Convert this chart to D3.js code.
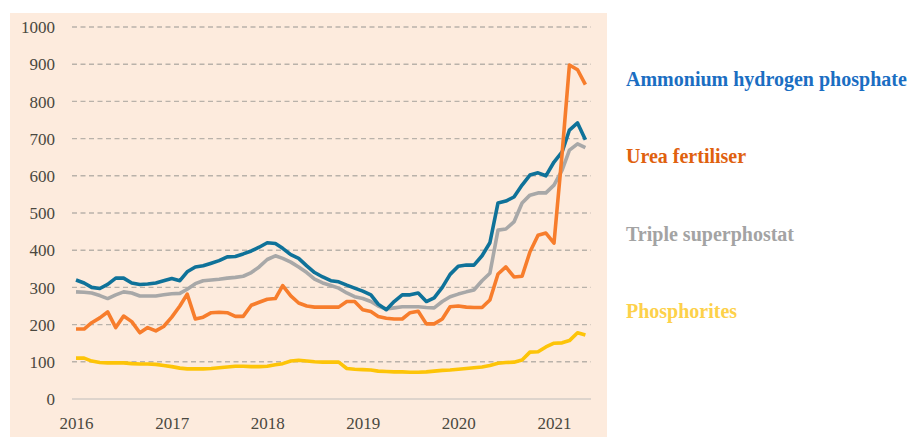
<!DOCTYPE html>
<html>
<head>
<meta charset="utf-8">
<script src="https://cdn.jsdelivr.net/npm/d3@7"></script>
<style>
  html, body { margin: 0; padding: 0; background: #ffffff; }
  svg { display: block; }
</style>
</head>
<body>
<svg id="chart" width="913" height="437"></svg>
<script>
// ---- Data (monthly, Jan 2016 – May 2021) ----
const startMonth = new Date(2016, 0, 1);
const endMonth = new Date(2021, 5, 1);
const months = d3.timeMonth.range(startMonth, endMonth); // 65 months

const ammonium = [320,312,300,297,308,325,325,312,308,309,312,318,
                  324,318,342,355,358,365,372,382,383,390,398,408,
                  420,418,405,388,378,358,340,328,318,315,306,298,
                  290,280,255,240,262,280,280,285,262,272,300,335,
                  357,360,360,385,420,527,532,543,575,602,608,600,
                  637,664,723,742,697];
const urea = [188,188,205,218,234,192,223,208,178,192,183,195,
              220,250,282,215,220,232,233,232,222,222,252,260,
              268,270,305,277,258,250,247,247,247,247,262,262,
              240,235,222,217,215,215,232,236,202,202,215,248,
              250,247,246,246,266,336,355,328,330,395,440,446,
              419,660,898,885,845];
const triple = [288,287,285,278,270,280,288,285,277,277,277,280,
                283,284,295,310,318,320,322,325,327,330,340,355,
                375,385,378,368,355,340,322,312,305,298,285,275,
                270,262,250,242,245,248,248,248,246,245,262,275,
                282,288,293,318,338,454,457,476,527,548,554,554,
                575,615,669,686,676];
const phosphorites = [110,110,102,98,97,97,97,95,94,94,93,90,
                      87,83,81,81,81,82,84,86,88,88,87,87,
                      88,92,95,102,104,102,100,99,99,99,82,80,
                      79,78,75,74,73,73,72,72,73,75,77,78,
                      80,82,84,86,90,96,98,99,105,126,127,140,
                      150,151,157,178,172];

const seriesNames = ["Ammonium hydrogen phosphate", "Urea fertiliser", "Triple superphostat", "Phosphorites"];
const yTicks = [0,100,200,300,400,500,600,700,800,900,1000];
const xTickYears = [2016,2017,2018,2019,2020,2021];

// ---- Layout ----
const svg = d3.select("#chart");
const serif = "'Liberation Serif', 'DejaVu Serif', serif";

svg.append("rect")
  .attr("x", 10).attr("y", 13)
  .attr("width", 597).attr("height", 424)
  .attr("fill", "#fdebdd");

const x = d3.scaleTime()
  .domain([new Date(2016,0,1), new Date(2021,0,1)])
  .range([76, 554]);
const y = d3.scaleLinear().domain([0, 1000]).range([399, 27]);

// gridlines
const grid = svg.append("g");
grid.selectAll("line.grid")
  .data(yTicks.filter(d => d > 0))
  .join("line")
  .attr("class", "grid")
  .attr("x1", 72).attr("x2", 591)
  .attr("y1", d => y(d)).attr("y2", d => y(d))
  .attr("stroke", "#b9b2aa")
  .attr("stroke-width", 1.4)
  .attr("stroke-dasharray", "5,3.5");
grid.append("line")
  .attr("x1", 72).attr("x2", 591)
  .attr("y1", y(0)).attr("y2", y(0))
  .attr("stroke", "#d3cdc6")
  .attr("stroke-width", 1.4);

// Y axis labels
const yAxis = d3.axisLeft(y).tickValues(yTicks).tickSize(0).tickPadding(0).tickFormat(d3.format("d"));
const gy = svg.append("g").attr("transform", "translate(55,0)").call(yAxis);
gy.select(".domain").remove();
gy.selectAll("text")
  .attr("font-family", serif)
  .attr("font-size", 17)
  .attr("fill", "#4a4840")
  .attr("dy", "0.34em");

// X axis labels
const xAxis = d3.axisBottom(x)
  .tickValues(xTickYears.map(yr => new Date(yr, 0, 1)))
  .tickFormat(d3.timeFormat("%Y"))
  .tickSize(0).tickPadding(0);
const gx = svg.append("g").attr("transform", "translate(0,417)").call(xAxis);
gx.select(".domain").remove();
gx.selectAll("text")
  .attr("font-family", serif)
  .attr("font-size", 17)
  .attr("fill", "#4a4840");

// lines
const lineGen = d3.line()
  .x((d, i) => x(months[i]))
  .y(d => y(d));

const drawOrder = [
  {values: phosphorites, color: "#fdc408"},
  {values: triple, color: "#a8a8a8"},
  {values: ammonium, color: "#0f7299"},
  {values: urea, color: "#f77d2c"}
];
svg.append("g").selectAll("path")
  .data(drawOrder)
  .join("path")
  .attr("d", d => lineGen(d.values))
  .attr("fill", "none")
  .attr("stroke", d => d.color)
  .attr("stroke-width", 3.6)
  .attr("stroke-linejoin", "round")
  .attr("stroke-linecap", "butt");

// legend labels
const legendColors = ["#1b6ec2", "#e0610e", "#a3a3a3", "#fdd14a"];
const legendY = [86, 163, 241, 318];
svg.append("g").selectAll("text")
  .data(seriesNames)
  .join("text")
  .attr("x", 626)
  .attr("y", (d, i) => legendY[i])
  .attr("font-family", serif)
  .attr("font-weight", "bold")
  .attr("font-size", 20)
  .attr("fill", (d, i) => legendColors[i])
  .text(d => d);
</script>
</body>
</html>
